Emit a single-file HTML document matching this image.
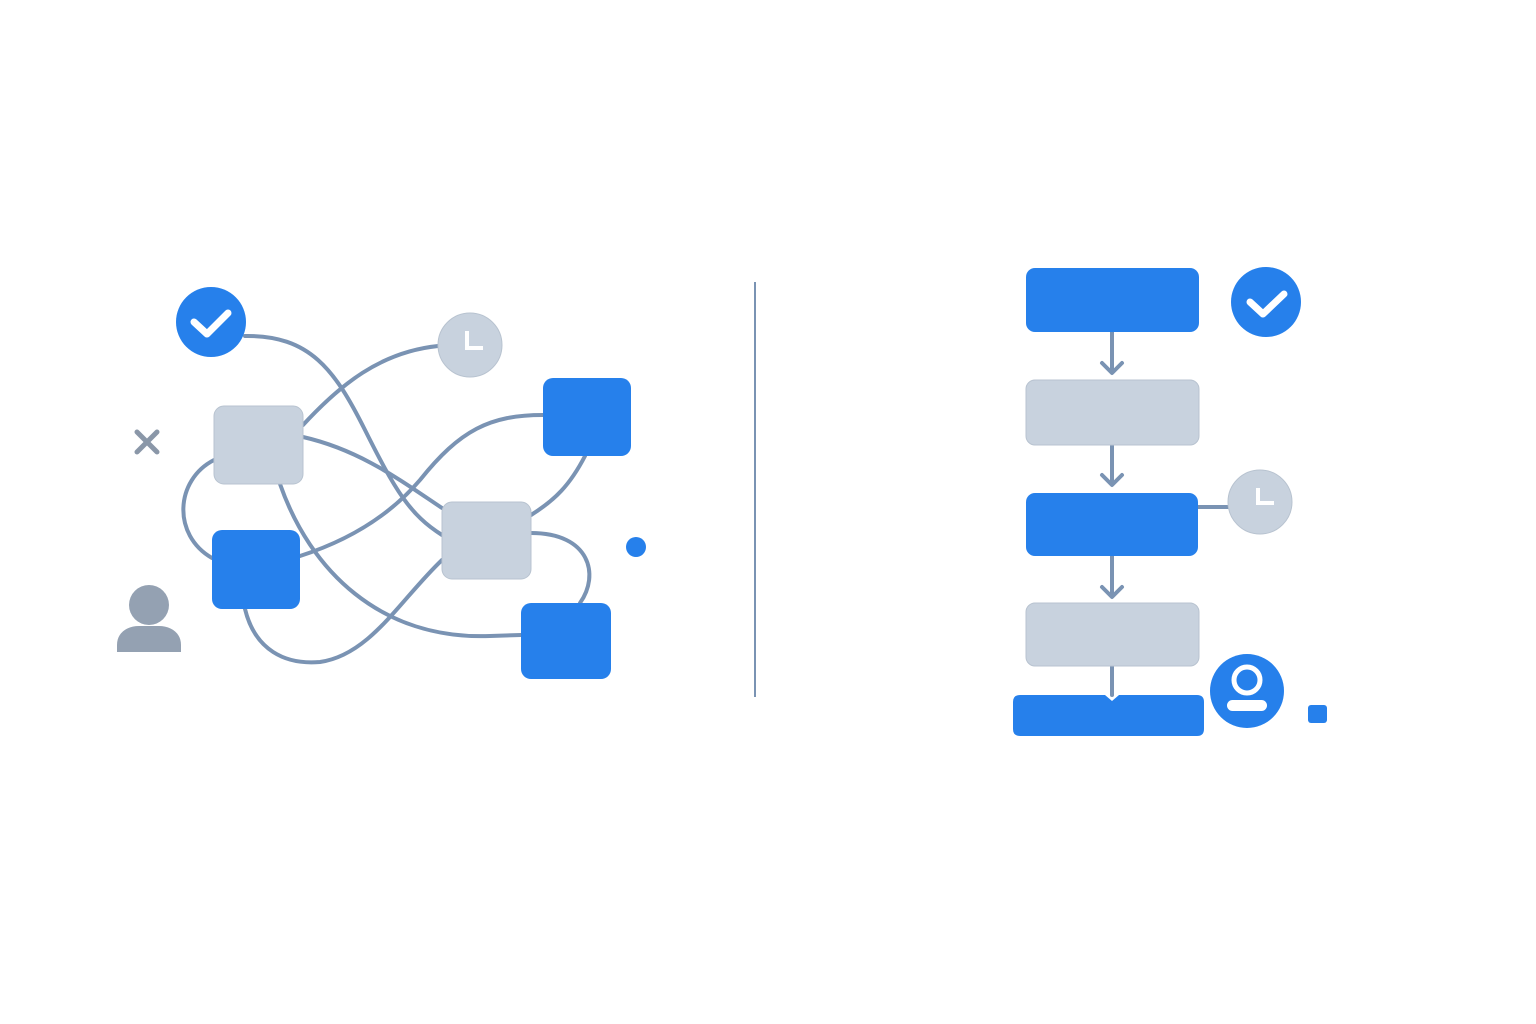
<!DOCTYPE html>
<html><head><style>html,body{margin:0;padding:0;background:#fff}svg{display:block}</style></head>
<body>
<svg width="1536" height="1024" viewBox="0 0 1536 1024" xmlns="http://www.w3.org/2000/svg">
<rect width="1536" height="1024" fill="#fff"/>
<g fill="none" stroke="#7A93B3" stroke-width="4" stroke-linecap="round">
<path d="M245,336 C310,335 335,370 365,430 C395,490 410,515 442,535"/>
<path d="M438,346 C380,352 340,385 303,425"/>
<path d="M303,437 C360,450 400,480 442,508"/>
<path d="M214,460 C175,480 172,535 212,558"/>
<path d="M300,556 C350,540 390,515 420,480 C460,430 490,415 543,415"/>
<path d="M280,484 C310,570 380,640 490,636 L521,635"/>
<path d="M245,609 C255,650 285,665 320,662 C370,655 400,600 442,560"/>
<path d="M585,456 C570,485 555,500 531,515"/>
<path d="M531,533 C590,533 600,575 580,603"/>
</g>
<circle cx="211" cy="322" r="35" fill="#2680EB"/>
<path d="M194,322 L207,334 L228,313" fill="none" stroke="#fff" stroke-width="7" stroke-linecap="round" stroke-linejoin="round"/>
<circle cx="470" cy="345" r="32" fill="#C8D2DE" stroke="#B8C3D0" stroke-width="1"/>
<path d="M467,331 L467,348 L483,348" fill="none" stroke="#fff" stroke-width="4"/>
<rect x="214" y="406" width="89" height="78" rx="10" fill="#C8D2DE" stroke="#B8C3D0"/>
<rect x="212" y="530" width="88" height="79" rx="10" fill="#2680EB"/>
<rect x="442" y="502" width="89" height="77" rx="10" fill="#C8D2DE" stroke="#B8C3D0"/>
<rect x="543" y="378" width="88" height="78" rx="10" fill="#2680EB"/>
<rect x="521" y="603" width="90" height="76" rx="10" fill="#2680EB"/>
<circle cx="636" cy="547" r="10" fill="#2680EB"/>
<path d="M137,432 L157,452 M157,432 L137,452" stroke="#8A97A8" stroke-width="5" stroke-linecap="round"/>
<circle cx="149" cy="605" r="20" fill="#94A1B2"/>
<path d="M117,652 L117,645 C117,632 128,626 139,626 L159,626 C170,626 181,632 181,645 L181,652 Z" fill="#94A1B2"/>
<line x1="755" y1="282" x2="755" y2="697" stroke="#7A93B3" stroke-width="2"/>
<g stroke="#7A93B3" stroke-width="4" fill="none" stroke-linecap="round" stroke-linejoin="round">
<path d="M1112,332 L1112,372 M1102,363 L1112,373 L1122,363"/>
<path d="M1112,445 L1112,484 M1102,475 L1112,485 L1122,475"/>
<path d="M1112,556 L1112,596 M1102,587 L1112,597 L1122,587"/>
<path d="M1112,666 L1112,695"/>
<path d="M1198,507 L1228,507"/>
</g>
<rect x="1026" y="268" width="173" height="64" rx="9" fill="#2680EB"/>
<rect x="1026" y="380" width="173" height="65" rx="9" fill="#C8D2DE" stroke="#B8C3D0"/>
<rect x="1026" y="493" width="172" height="63" rx="9" fill="#2680EB"/>
<rect x="1026" y="603" width="173" height="63" rx="9" fill="#C8D2DE" stroke="#B8C3D0"/>
<path d="M1020,695 L1105,695 L1112,701 L1119,695 L1197,695 Q1204,695 1204,702 L1204,729 Q1204,736 1197,736 L1020,736 Q1013,736 1013,729 L1013,702 Q1013,695 1020,695 Z" fill="#2680EB"/>
<circle cx="1266" cy="302" r="35" fill="#2680EB"/>
<path d="M1250,302 L1263,314 L1284,294" fill="none" stroke="#fff" stroke-width="7" stroke-linecap="round" stroke-linejoin="round"/>
<circle cx="1260" cy="502" r="32" fill="#C8D2DE" stroke="#B8C3D0"/>
<path d="M1258,488 L1258,503 L1274,503" fill="none" stroke="#fff" stroke-width="4"/>
<circle cx="1247" cy="691" r="37" fill="#2680EB"/>
<circle cx="1247" cy="680" r="13" fill="none" stroke="#fff" stroke-width="5"/>
<rect x="1227" y="700" width="40" height="11" rx="5.5" fill="#fff"/>
<rect x="1308" y="705" width="19" height="18" rx="3" fill="#2680EB"/>
</svg>
</body></html>
